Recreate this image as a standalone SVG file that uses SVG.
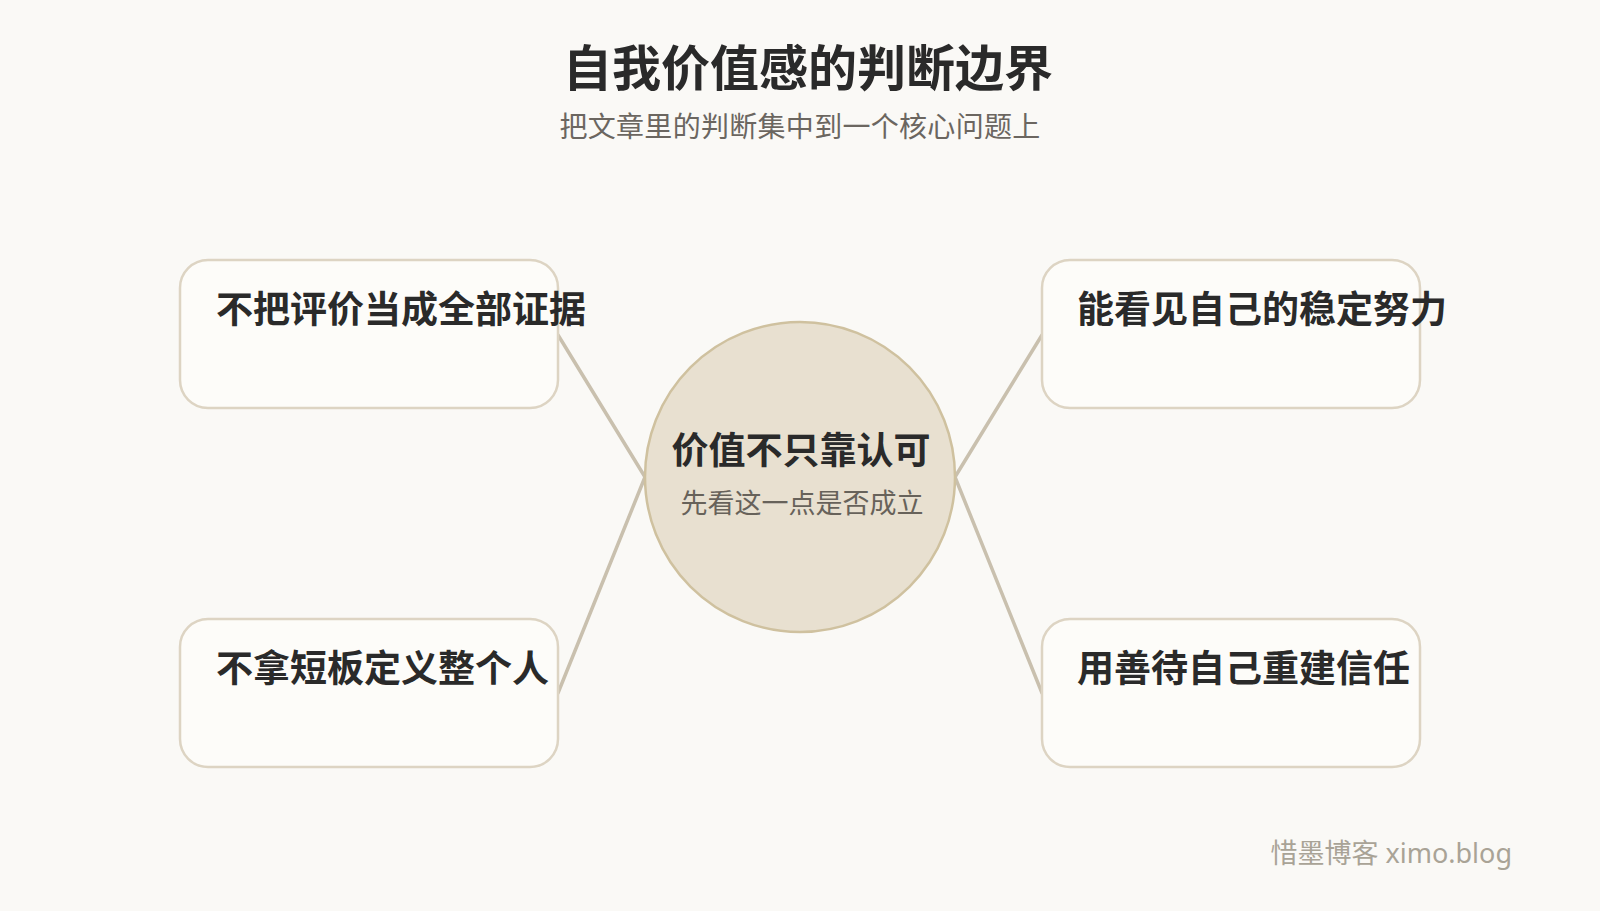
<svg xmlns="http://www.w3.org/2000/svg" width="1600" height="911" viewBox="0 0 1600 911">
  <style>
    text { font-family: "Noto Sans CJK SC", "Noto Sans", sans-serif; }
    .title { font-size: 49px; font-weight: 700; fill: #2a2a2a; }
    .subtitle { font-size: 28px; font-weight: 400; fill: #6b6660; letter-spacing: 0.3px; }
    .box { fill: #fdfcf9; stroke: #ddd4c3; stroke-width: 2.5; }
    .boxtext { font-size: 37px; font-weight: 700; fill: #2a2a2a; }
    .hub { fill: #e8e0d0; stroke: #cfc19f; stroke-width: 2.5; }
    .hubtitle { font-size: 37px; font-weight: 700; fill: #2a2a2a; }
    .hubsub { font-size: 27px; font-weight: 400; fill: #67625a; }
    .conn { stroke: #c9c0ae; stroke-width: 3.5; fill: none; stroke-linecap: round; }
    .mark { font-family: "Noto Sans", "Noto Sans CJK SC", sans-serif; font-size: 27px; font-weight: 400; fill: #a9a396; }
  </style>
  <rect x="0" y="0" width="1600" height="911" fill="#faf9f6"/>

  <text class="title" x="808" y="86" text-anchor="middle">自我价值感的判断边界</text>
  <text class="subtitle" x="800" y="137" text-anchor="middle">把文章里的判断集中到一个核心问题上</text>

  <g id="connectors">
    <line class="conn" x1="558" y1="335" x2="645" y2="477"/>
    <line class="conn" x1="558" y1="693" x2="645" y2="477"/>
    <line class="conn" x1="1042" y1="335" x2="955" y2="477"/>
    <line class="conn" x1="1042" y1="693" x2="955" y2="477"/>
  </g>

  <g id="node-top-left">
    <rect class="box" x="180" y="260" width="378" height="148" rx="28"/>
    <text class="boxtext" x="216" y="323">不把评价当成全部证据</text>
  </g>
  <g id="node-bottom-left">
    <rect class="box" x="180" y="619" width="378" height="148" rx="28"/>
    <text class="boxtext" x="216" y="682">不拿短板定义整个人</text>
  </g>
  <g id="node-top-right">
    <rect class="box" x="1042" y="260" width="378" height="148" rx="28"/>
    <text class="boxtext" x="1077" y="323">能看见自己的稳定努力</text>
  </g>
  <g id="node-bottom-right">
    <rect class="box" x="1042" y="619" width="378" height="148" rx="28"/>
    <text class="boxtext" x="1077" y="682">用善待自己重建信任</text>
  </g>

  <g id="node-center">
    <circle class="hub" cx="800" cy="477" r="155"/>
    <text class="hubtitle" x="801" y="464" text-anchor="middle">价值不只靠认可</text>
    <text class="hubsub" x="802" y="513" text-anchor="middle">先看这一点是否成立</text>
  </g>

  <text class="mark" x="1512" y="863" text-anchor="end">惜墨博客 ximo.blog</text>
</svg>
